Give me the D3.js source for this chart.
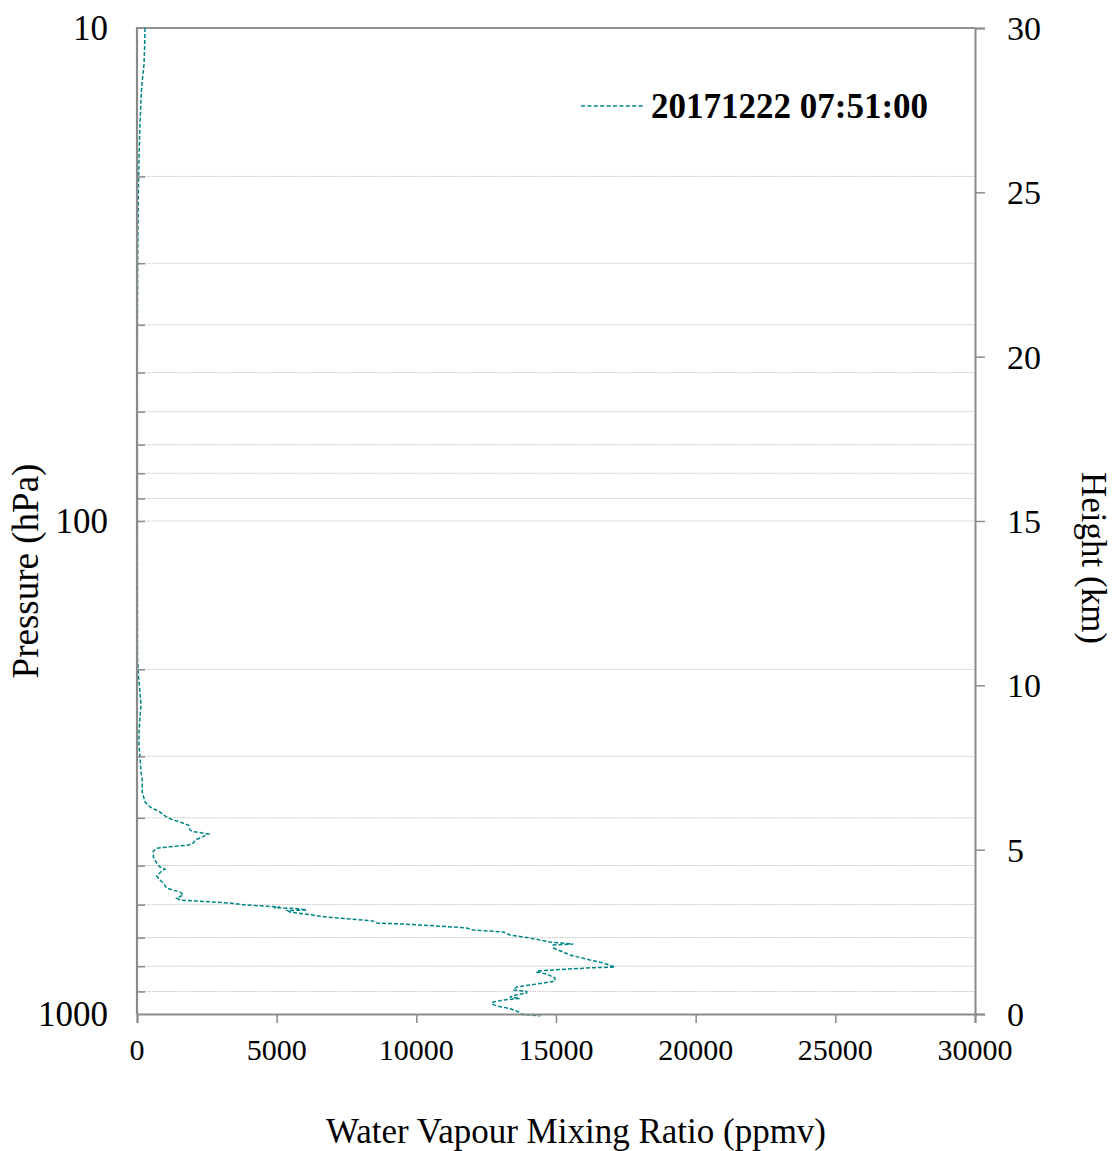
<!DOCTYPE html>
<html>
<head>
<meta charset="utf-8">
<script src="https://cdn.jsdelivr.net/npm/d3@7"></script>
<style>
  html, body { margin: 0; padding: 0; background: #fff; }
  svg { display: block; font-family: "Liberation Serif", "Times New Roman", serif; }
</style>
</head>
<body>
<svg id="chart" width="1113" height="1151"></svg>
<script>
// Sounding profile: pressure levels (hPa) and water vapour mixing ratio (ppmv)
const pressure = [
  10, 10.83, 11.88, 12.93, 13.49, 15.73, 18.35, 21.51, 29.28, 46.7,
  74.5, 118.9, 189.6, 208.2, 222.3, 236.2, 250.9, 267.9, 284.7, 302.5,
  322.9, 335.2, 354.6, 371.5, 380.2, 384.8, 389.4, 394.8, 399.9, 404.2,
  408.0, 413.7, 423.5, 427.0, 428.5, 431.5, 438.0, 443.8, 450.0, 454.3,
  458.0, 461.0, 467.2, 480.4, 494.1, 503.4, 508.1, 513.0, 525.0, 535.0,
  542.5, 555.3, 561.0, 565.7, 573.7, 581.8, 587.3, 590.0, 595.6, 601.0,
  604.0, 606.8, 608.5, 611.0, 615.3, 617.0, 621.1, 635.7, 644.7, 648.0,
  653.9, 656.9, 666.1, 669.3, 675.5, 681.9, 691.5, 701.3, 714.5, 721.2,
  724.4, 734.7, 759.1, 777.1, 788.1, 802.9, 806.6, 818.0, 821.9, 829.6,
  845.3, 857.3, 861.2, 873.4, 881.6, 894.0, 900.0, 906.7, 915.2, 923.8,
  930.0, 936.8, 945.6, 954.4, 963.4, 975.0, 990.0, 1002.0, 1009.0
];
const mixingRatio = [
  286, 275, 250, 180, 155, 107, 72, 48, 25, 10,
  12, 14, 18, 60, 107, 143, 107, 72, 72, 107,
  143, 190, 185, 290, 465, 644, 823, 942, 1121, 1300,
  1540, 1837, 1898, 2016, 2255, 2553, 2316, 2076, 2016, 1837,
  1181, 705, 585, 585, 705, 823, 1002, 884, 705, 823,
  942, 1062, 1300, 1540, 1658, 1420, 1540, 2136, 3330, 3900,
  4520, 5120, 4900, 5700, 6075, 5400, 5480, 6790, 8100, 8460,
  8580, 9535, 11325, 11803, 12040, 13115, 13353, 14070, 14786, 15620,
  14904, 14904, 15500, 16217, 16694, 17112, 16098, 14309, 14309, 14667,
  14963, 14963, 14786, 14070, 13593, 13472, 13950, 13950, 13550, 13353,
  13700, 13115, 12757, 12698, 12900, 13350, 13650, 13800, 14428
];

// Axis ticks
const xTicks = [0, 5000, 10000, 15000, 20000, 25000, 30000];
const pressureLabels = [10, 100, 1000];
const pressureGrid = [20, 30, 40, 50, 60, 70, 80, 90, 100, 200, 300, 400, 500, 600, 700, 800, 900];
const heightTicks = [0, 5, 10, 15, 20, 25, 30];
const seriesName = "20171222 07:51:00";

const svg = d3.select("#chart");
const plotLeft = 137, plotRight = 975, plotTop = 28, plotBottom = 1014;
const axisGrey = "#8a8a8a";
const lineColor = "#008585";

const x = d3.scaleLinear().domain([0, 30000]).range([plotLeft, plotRight]);
const y = d3.scaleLog().domain([10, 1000]).range([plotTop, plotBottom]);
const yH = d3.scaleLinear().domain([0, 30]).range([plotBottom, plotTop]);

// Horizontal gridlines at the pressure levels
svg.append("g").selectAll("line").data(pressureGrid).join("line")
  .attr("x1", plotLeft).attr("x2", plotRight)
  .attr("y1", d => y(d)).attr("y2", d => y(d))
  .attr("stroke", "#c4c4c4").attr("stroke-width", 1)
  .attr("stroke-dasharray", "1.5,1");

// Top frame line
svg.append("line").attr("x1", plotLeft).attr("x2", plotRight).attr("y1", plotTop).attr("y2", plotTop)
  .attr("stroke", "#222").attr("stroke-width", 1.2);

// Profile line
const line = d3.line().x((d, i) => x(mixingRatio[i])).y(d => y(d));
svg.append("path").datum(pressure)
  .attr("d", line)
  .attr("fill", "none")
  .attr("stroke", lineColor)
  .attr("stroke-width", 1.5)
  .attr("stroke-dasharray", "4,2");

// Left pressure axis: inward ticks at gridlines, labels at decades
const gLeft = svg.append("g").attr("transform", `translate(${plotLeft},0)`)
  .call(d3.axisLeft(y).tickValues(pressureGrid).tickSize(-8).tickFormat(""));
gLeft.select(".domain").remove();
gLeft.selectAll(".tick line").attr("stroke", axisGrey).attr("stroke-width", 1.5);
svg.append("line").attr("x1", plotLeft).attr("x2", plotLeft).attr("y1", plotTop - 1).attr("y2", plotBottom)
  .attr("stroke", axisGrey).attr("stroke-width", 2.2);
svg.append("g").selectAll("text").data(pressureLabels).join("text")
  .attr("x", plotLeft - 29).attr("y", d => y(d) + 12)
  .attr("text-anchor", "end")
  .attr("font-size", 35).attr("fill", "#000")
  .text(d => d);

// Bottom axis
const gBottom = svg.append("g").attr("transform", `translate(0,${plotBottom})`)
  .call(d3.axisBottom(x).tickValues(xTicks).tickSize(9).tickFormat(""));
gBottom.select(".domain").attr("stroke", axisGrey).attr("stroke-width", 2);
gBottom.selectAll(".tick line").attr("stroke", axisGrey).attr("stroke-width", 1.5);
svg.append("g").selectAll("text").data(xTicks).join("text")
  .attr("x", d => x(d)).attr("y", 1060)
  .attr("text-anchor", "middle")
  .attr("font-size", 30).attr("fill", "#000")
  .text(d => d);

// Right height axis
const gRight = svg.append("g").attr("transform", `translate(${plotRight},0)`)
  .call(d3.axisRight(yH).tickValues(heightTicks).tickSize(10).tickFormat(""));
gRight.select(".domain").attr("stroke", axisGrey).attr("stroke-width", 2);
gRight.selectAll(".tick line").attr("stroke", axisGrey).attr("stroke-width", 1.5);
svg.append("g").selectAll("text").data(heightTicks).join("text")
  .attr("x", plotRight + 32).attr("y", d => yH(d) + 12)
  .attr("text-anchor", "start")
  .attr("font-size", 34).attr("fill", "#000")
  .text(d => d);

// Axis titles
svg.append("text")
  .attr("transform", "translate(38,571) rotate(-90)")
  .attr("text-anchor", "middle").attr("font-size", 37)
  .text("Pressure (hPa)");
svg.append("text")
  .attr("transform", "translate(1082,558) rotate(90)")
  .attr("text-anchor", "middle").attr("font-size", 35)
  .text("Height (km)");
svg.append("text")
  .attr("x", 576).attr("y", 1143)
  .attr("text-anchor", "middle").attr("font-size", 35)
  .text("Water Vapour Mixing Ratio (ppmv)");

// Legend
const legend = svg.append("g");
legend.append("line")
  .attr("x1", 581).attr("x2", 645).attr("y1", 106).attr("y2", 106)
  .attr("stroke", lineColor).attr("stroke-width", 1.3)
  .attr("stroke-dasharray", "4,2.4");
legend.append("text")
  .attr("x", 651).attr("y", 118)
  .attr("font-size", 35).attr("font-weight", "bold")
  .text(seriesName);
</script>
</body>
</html>
